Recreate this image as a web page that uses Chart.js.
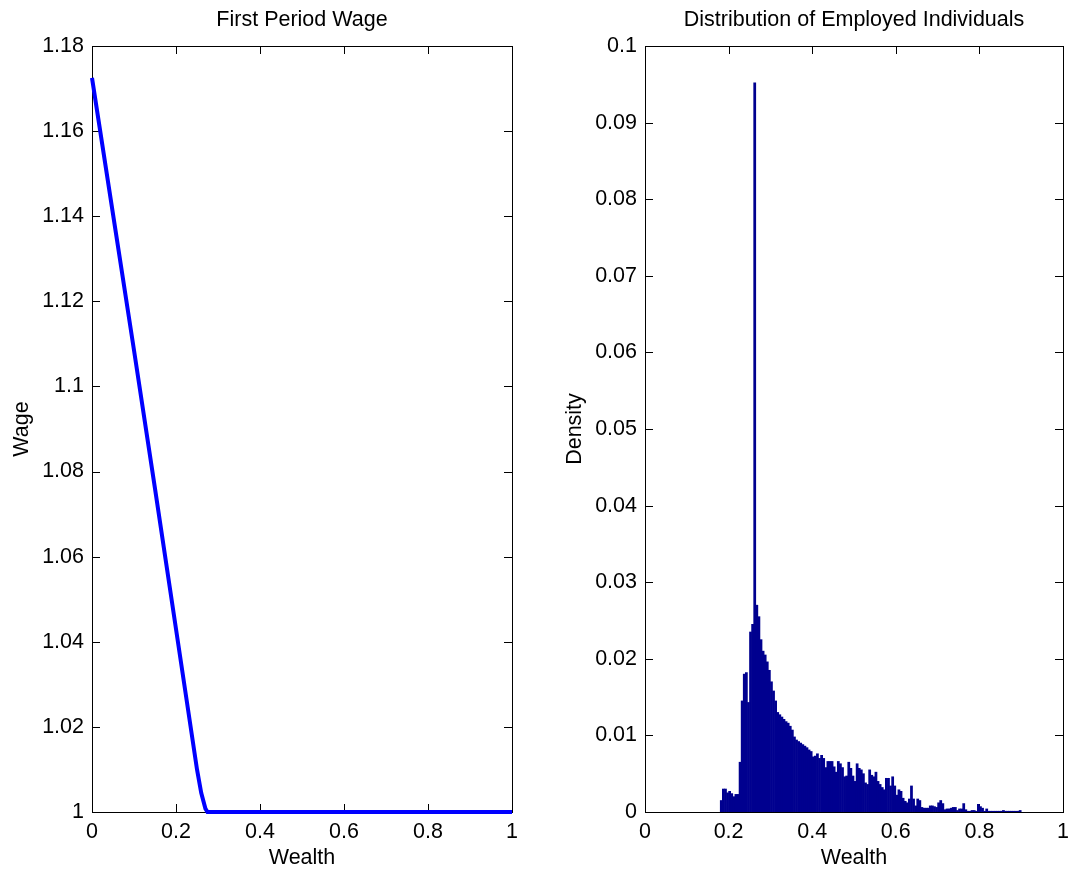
<!DOCTYPE html>
<html>
<head>
<meta charset="utf-8">
<script src="https://cdn.jsdelivr.net/npm/chart.js@4"></script>
<style>
  html, body { margin: 0; padding: 0; background: #fff; overflow: hidden; width: 1070px; height: 873px; }
  .panel { position: absolute; top: 0; height: 873px; }
</style>
</head>
<body>
<div class="panel" style="left:0;width:535px"><canvas id="wageChart"></canvas></div>
<div class="panel" style="left:535px;width:543px"><canvas id="densityChart"></canvas></div>
<script>
// first period wage against wealth
const wealthGrid = [0, 0.05, 0.1, 0.15, 0.2, 0.225, 0.25, 0.26, 0.27, 0.275, 0.3, 0.4, 0.5, 0.6, 0.7, 0.8, 0.9, 1];
const wageValues = [1.1725, 1.1405, 1.1085, 1.076, 1.043, 1.0265, 1.010, 1.0045, 1.0008, 1.0, 1, 1, 1, 1, 1, 1, 1, 1];

// histogram of employed individuals (bins of 0.005 starting at 0.18)
const binStart = 0.18;
const binWidth = 0.005;
const densityValues = [
  0.0015, 0.0030, 0.0030, 0.0025, 0.0027, 0.0024, 0.0020, 0.0023, 0.0023, 0.0065,
  0.0145, 0.0180, 0.0182, 0.0143, 0.0235, 0.0245, 0.0952, 0.0270, 0.0255, 0.0225,
  0.0210, 0.0205, 0.0196, 0.0185, 0.0170, 0.0158, 0.0145, 0.0130, 0.0127, 0.0124,
  0.0121, 0.0118, 0.0116, 0.0112, 0.0107, 0.0098, 0.0094, 0.0092, 0.0090, 0.0088,
  0.0086, 0.0084, 0.0081, 0.0079, 0.0072, 0.0073, 0.0076, 0.0070, 0.0074, 0.0070,
  0.0058, 0.0066, 0.0066, 0.0066, 0.0059, 0.0052, 0.0066, 0.0063, 0.0058, 0.0046,
  0.0047, 0.0065, 0.0057, 0.0047, 0.0040, 0.0063, 0.0057, 0.0055, 0.0050, 0.0038,
  0.0036, 0.0055, 0.0048, 0.0046, 0.0052, 0.0040, 0.0036, 0.0032, 0.0029, 0.0044,
  0.0044, 0.0034, 0.0046, 0.0034, 0.0022, 0.0029, 0.0027, 0.0018, 0.0014, 0.0012,
  0.0017, 0.0034, 0.0017, 0.0008, 0.0017, 0.0015, 0.0006, 0.0005, 0.0005, 0.0005,
  0.0008, 0.0008, 0.0007, 0.0006, 0.0012, 0.0015, 0.0011, 0.0003, 0.0004, 0.0004,
  0.0005, 0.0006, 0.0006, 0.0002, 0.0004, 0.0004, 0.0011, 0.0003, 0.0001, 0.0001,
  0.0002, 0.0002, 0.0001, 0.0010, 0.0007, 0.0005, 0.0001, 0.0004, 0.0001, 0.0001,
  0.0001, 0.0001, 0.0001, 0.0001, 0.0001, 0.0002, 0.0001, 0.0001, 0.0001, 0.0001,
  0.0001, 0.0001, 0.0001, 0.0002
];

const FONT = "'Liberation Sans', Arial, Helvetica, sans-serif";
const SIZE = 21.5;
const fmt = v => String(parseFloat(Number(v).toFixed(4)));

// matlab style box with inward ticks, title centred over the axes
const boxPlugin = {
  id: 'box',
  afterLayout(chart) {
    if (chart.titleBlock) {
      chart.titleBlock.left = chart.chartArea.left;
      chart.titleBlock.right = chart.chartArea.right;
    }
  },
  beforeDatasetsDraw(chart) {
    const { ctx, chartArea: a, scales } = chart;
    const len = 8;
    ctx.save();
    ctx.strokeStyle = '#000';
    ctx.lineWidth = 1;
    ctx.beginPath();
    scales.x.ticks.forEach(t => {
      const px = Math.round(scales.x.getPixelForValue(t.value)) + 0.5;
      ctx.moveTo(px, a.bottom); ctx.lineTo(px, a.bottom - len);
      ctx.moveTo(px, a.top); ctx.lineTo(px, a.top + len);
    });
    scales.y.ticks.forEach(t => {
      const py = Math.round(scales.y.getPixelForValue(t.value)) + 0.5;
      ctx.moveTo(a.left, py); ctx.lineTo(a.left + len, py);
      ctx.moveTo(a.right, py); ctx.lineTo(a.right - len, py);
    });
    ctx.stroke();
    ctx.strokeRect(Math.round(a.left) + 0.5, Math.round(a.top) + 0.5,
      Math.round(a.right - a.left), Math.round(a.bottom - a.top));
    ctx.restore();
  }
};

function baseOptions(titleText, yTitle, yWidth, yTitlePad, padRight, yMin, yMax, yStep) {
  return {
    responsive: true,
    maintainAspectRatio: false,
    animation: false,
    layout: { padding: { left: 0, right: padRight, top: 0, bottom: 0 } },
    plugins: {
      legend: { display: false },
      tooltip: { enabled: false },
      title: {
        display: true,
        text: titleText,
        color: '#000',
        font: { family: FONT, size: SIZE, weight: 'normal', lineHeight: 1.2 },
        padding: { top: 7, bottom: 46 - 7 - SIZE * 1.2 }
      }
    },
    scales: {
      x: {
        type: 'linear',
        min: 0, max: 1,
        offset: false,
        grid: { display: false, drawTicks: false },
        border: { display: false },
        ticks: { stepSize: 0.2, padding: 7, color: '#000', maxRotation: 0,
                 font: { family: FONT, size: SIZE }, callback: v => fmt(v) },
        title: { display: true, text: 'Wealth', color: '#000',
                 font: { family: FONT, size: SIZE }, padding: { top: 0, bottom: 2 } },
        afterFit: s => { s.height = 61; }
      },
      y: {
        min: yMin, max: yMax,
        grid: { display: false, drawTicks: false },
        border: { display: false },
        ticks: { stepSize: yStep, padding: 8, color: '#000',
                 font: { family: FONT, size: SIZE }, callback: v => fmt(v) },
        title: { display: true, text: yTitle, color: '#000',
                 font: { family: FONT, size: SIZE }, padding: { top: yTitlePad, bottom: 0 } },
        afterFit: s => { s.width = yWidth; }
      }
    }
  };
}

new Chart(document.getElementById('wageChart'), {
  type: 'line',
  data: {
    datasets: [{
      data: wealthGrid.map((w, i) => ({ x: w, y: wageValues[i] })),
      borderColor: '#0000ff',
      borderWidth: 4,
      pointRadius: 0,
      tension: 0,
      clip: 4
    }]
  },
  options: baseOptions('First Period Wage', 'Wage', 92, 9, 23, 1, 1.18, 0.02),
  plugins: [boxPlugin]
});

new Chart(document.getElementById('densityChart'), {
  type: 'bar',
  data: {
    datasets: [{
      data: densityValues.map((d, i) => ({ x: binStart + binWidth * (i + 0.5), y: d })),
      backgroundColor: '#00008f',
      borderWidth: 0,
      barPercentage: 1,
      categoryPercentage: 1,
      grouped: false
    }]
  },
  options: baseOptions('Distribution of Employed Individuals', 'Density', 110, 27, 15, 0, 0.1, 0.01),
  plugins: [boxPlugin]
});
</script>
</body>
</html>
